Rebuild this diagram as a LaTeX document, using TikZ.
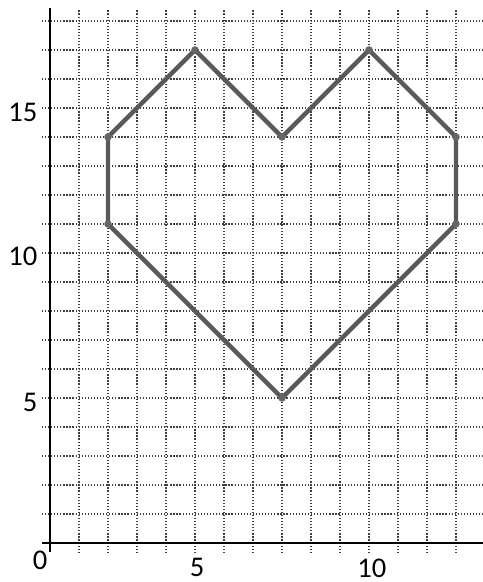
\documentclass[tikz,border=0pt]{standalone}
\usepackage{fontspec}
\setmainfont{Carlito}
\begin{document}
\begin{tikzpicture}[x=0.5cm,y=0.5cm,
  gridline/.style={black!75, line width=0.6pt, dash pattern=on 0.6pt off 0.9pt},
  axisline/.style={black, line width=1.3pt},
  heartline/.style={black!65, line width=2.2pt, line join=round},
  lab/.style={font=\fontsize{14}{14}\selectfont, inner sep=0pt}]
\useasboundingbox (-1.724,-1.345) rectangle (14.931,18.724);
\fill[white] (-1.724,-1.345) rectangle (14.931,18.724);
% grid
\foreach \i in {1,...,14} \draw[gridline] (\i,-0.34) -- (\i,18.38);
\foreach \j in {1,...,18} \draw[gridline] (-0.28,\j) -- (14.931,\j);
% axes
\coordinate (xa) at (-0.28,0);
\coordinate (xb) at (14.931,0);
\coordinate (ya) at (0,-0.3);
\coordinate (yb) at (0,18.45);
\draw[axisline] (xa) -- (xb);
\draw[axisline] (ya) -- (yb);
% labels
\node[lab, anchor=east] (l15) at (-0.42,14.85) {15};
\node[lab, anchor=east] (l10) at (-0.42,9.9) {10};
\node[lab, anchor=east] (l5) at (-0.42,4.85) {5};
\node[lab] (l0) at (-0.34,-0.6) {0};
\node[lab] (b5) at (5.07,-0.86) {5};
\node[lab] (b10) at (11.1,-0.86) {10};
% heart
\coordinate (p1) at (2,14);
\coordinate (p2) at (5,17);
\coordinate (p3) at (8,14);
\coordinate (p4) at (11,17);
\coordinate (p5) at (14,14);
\coordinate (p6) at (14,11);
\coordinate (p7) at (8,5);
\coordinate (p8) at (2,11);
\draw[heartline] (p1) -- (p2) -- (p3) -- (p4) -- (p5) -- (p6) -- (p7) -- (p8) -- cycle;
\foreach \p in {p1,p2,p3,p4,p5,p6,p7,p8} \fill[black!60] (\p) circle (0.13);
\end{tikzpicture}
\end{document}
